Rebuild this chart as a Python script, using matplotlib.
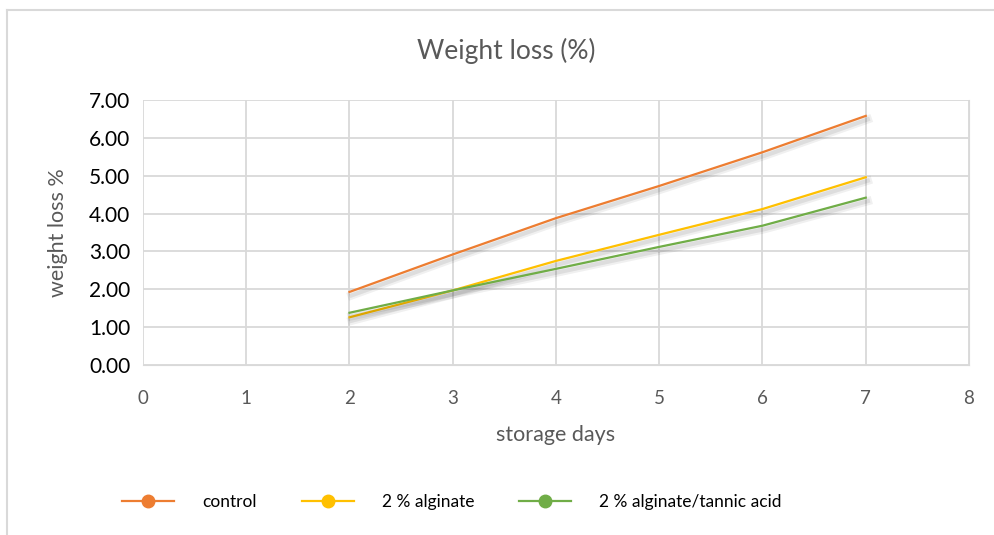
import matplotlib
matplotlib.use("Agg")
import matplotlib.pyplot as plt
import matplotlib.patheffects as pe
from matplotlib.lines import Line2D

days = [2, 3, 4, 5, 6, 7]
control = [1.93, 2.92, 3.88, 4.73, 5.62, 6.58]
alginate = [1.26, 1.97, 2.75, 3.44, 4.12, 4.96]
alginate_tannic = [1.38, 1.97, 2.54, 3.12, 3.68, 4.42]
series_names = ["control", "2 % alginate", "2 % alginate/tannic acid"]
colors = ["#ED7D31", "#FFC000", "#70AD47"]

plt.rcParams['font.family'] = ['Lato', 'DejaVu Sans']

fig = plt.figure(figsize=(9.95, 5.35), dpi=100)
ax = fig.add_axes([143/995, 1-365/535, (969-143)/995, (365-100)/535])

shadow = [pe.SimpleLineShadow(offset=(1.5, -2.5), shadow_color='black', alpha=0.06, rho=1, linewidth=6),
          pe.SimpleLineShadow(offset=(1.5, -2.5), shadow_color='black', alpha=0.08, rho=1, linewidth=3),
          pe.Normal()]

for vals, c, name in zip([control, alginate, alginate_tannic], colors, series_names):
    ax.plot(days, vals, color=c, lw=1.6, label=name, zorder=3, path_effects=shadow)

ax.set_xlim(0, 8)
ax.set_ylim(0, 7)
ax.set_xticks(range(0, 9))
ax.set_yticks(range(0, 8))
ax.set_yticklabels([f"{v:.2f}" for v in range(0, 8)], color='black', fontsize=15)
ax.set_xticklabels([str(v) for v in range(0, 9)], color='#595959', fontsize=13.5)
ax.tick_params(length=0)
ax.tick_params(axis='x', pad=18)
ax.tick_params(axis='y', pad=9)
ax.grid(True, color='#d9d9d9', lw=1.3)
for s in ax.spines.values():
    s.set_visible(False)
ax.spines['right'].set_visible(True)
ax.spines['right'].set_color('#d9d9d9')
ax.spines['bottom'].set_visible(True)
ax.spines['bottom'].set_color('#d9d9d9')
ax.set_axisbelow(True)

ax.set_xlabel("storage days", color='#595959', fontsize=15.5, labelpad=13)
ax.set_ylabel("weight loss %", color='#595959', fontsize=15.5, labelpad=15)

fig.text(506/995, 1-51/535, "Weight loss (%)", ha='center', va='center', fontsize=19, color='#595959')

handles = [Line2D([0], [0], color=c, lw=1.6, marker='o', markersize=9) for c in colors]
fig.legend(handles, series_names, loc='center', bbox_to_anchor=(452/995, 1-502/535), ncol=3,
           frameon=False, fontsize=12.5, handlelength=3.0, columnspacing=2.6, handletextpad=1.6)

# chart border
fig.add_artist(Line2D([7/995, 7/995], [0, 1-10/535], color='#d9d9d9', lw=1.5, transform=fig.transFigure))
fig.add_artist(Line2D([7/995, 1], [1-10/535, 1-10/535], color='#d9d9d9', lw=1.5, transform=fig.transFigure))

fig.savefig("out.png", dpi=100)
